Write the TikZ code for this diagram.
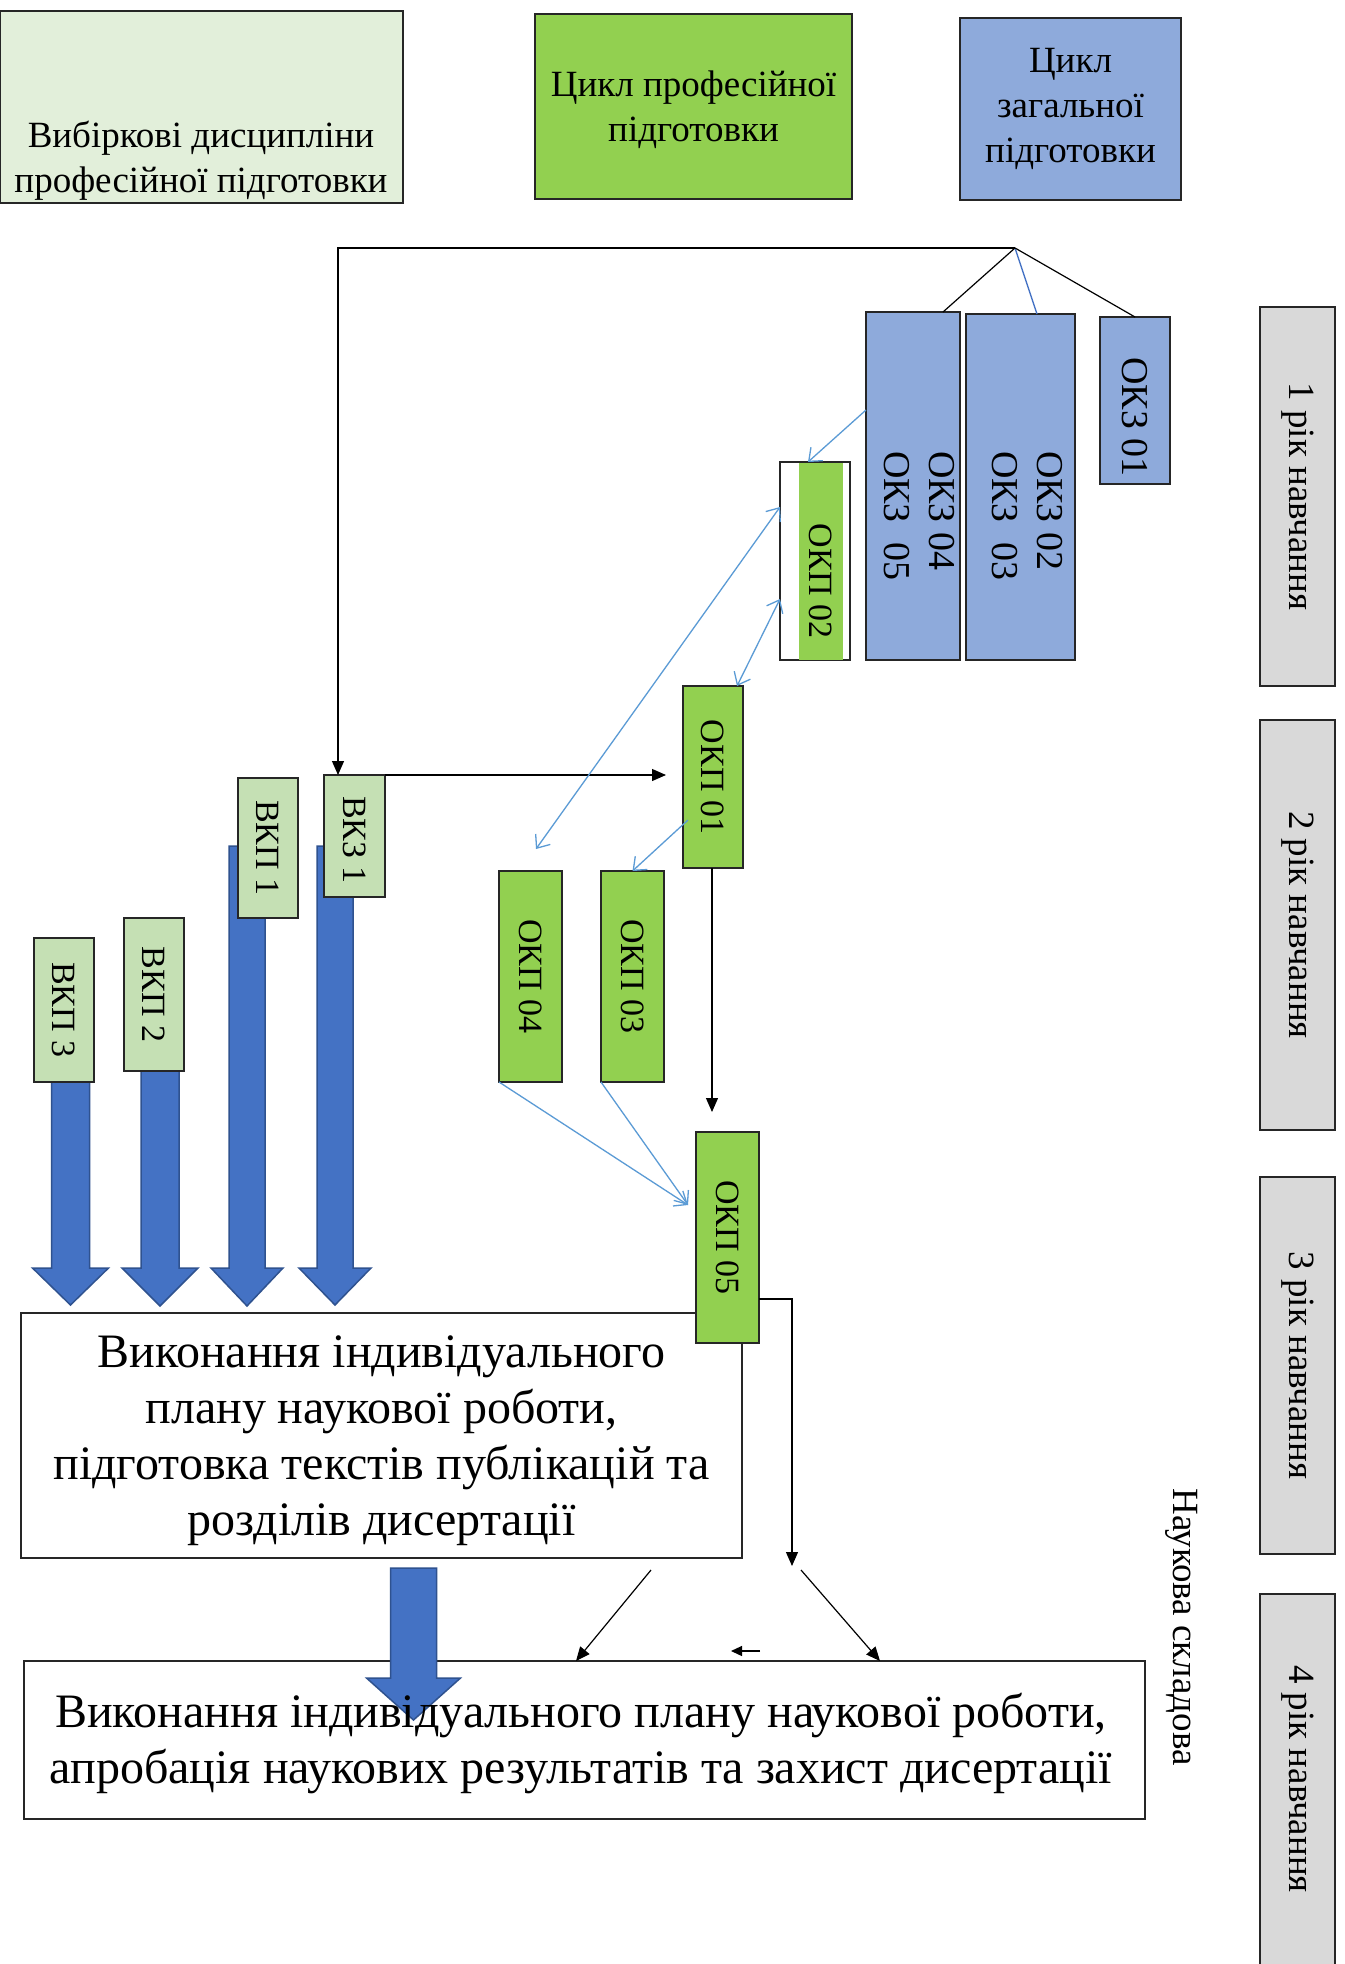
\documentclass[tikz,border=0pt]{standalone}
\usepackage{fontspec}
\setmainfont{Liberation Serif}
\usetikzlibrary{arrows.meta}
\definecolor{hdrlight}{HTML}{E2EFDA}
\definecolor{vkgreen}{HTML}{C5E0B4}
\definecolor{okpgreen}{HTML}{92D050}
\definecolor{okzblue}{HTML}{8EAADB}
\definecolor{yeargray}{HTML}{D9D9D9}
\definecolor{fatblue}{HTML}{4472C4}
\definecolor{fatborder}{HTML}{2F528F}
\definecolor{thinblue}{HTML}{5B9BD5}
\newcommand{\hdrsize}{\fontsize{37}{45}\selectfont}
\newcommand{\lblsize}{\fontsize{34}{45}\selectfont}
\newcommand{\okzsize}{\fontsize{38}{45}\selectfont}
\newcommand{\bigsize}{\fontsize{48}{56}\selectfont}
\newcommand{\blockarrow}[6]{%
  \path[fat] (#1-#2,#4) -- (#1+#2,#4) -- (#1+#2,#5) -- (#1+#3,#5) -- (#1,#6) -- (#1-#3,#5) -- (#1-#2,#5) -- cycle;}
\begin{document}
\begin{tikzpicture}[x=1pt,y=-1pt,
  rbox/.style={draw=black!85, line width=1.6pt, inner sep=0pt, outer sep=0pt},
  vlab/.style={rotate=-90, font=\lblsize, align=left, inner sep=0pt},
  hlab/.style={font=\hdrsize, align=center, inner sep=0pt},
  blab/.style={font=\bigsize, align=center, inner sep=0pt},
  blk/.style={draw=black, line width=1.2pt},
  blkarr/.style={blk, -{Triangle[length=14pt,width=12pt]}},
  thin/.style={draw=thinblue, line width=1.3pt},
  thinarr/.style={thin, -{Straight Barb[length=11pt,width=18pt,line width=1.3pt]}},
  thindbl/.style={thin, {Straight Barb[length=11pt,width=18pt,line width=1.3pt]}-{Straight Barb[length=11pt,width=18pt,line width=1.3pt]}},
  fat/.style={fill=fatblue, draw=fatborder, line width=1.5pt, line join=miter}
]
\useasboundingbox[fill=white] (0,0) rectangle (1344,1964);

% header boxes
\node[rbox, fill=hdrlight, minimum width=403pt, minimum height=192pt] (hdrA) at (201.5,107) {};
\node[hlab] (hdrAt) at (201,161) {Вибіркові дисципліни\\професійної підготовки};
\node[rbox, fill=okpgreen, minimum width=317pt, minimum height=185pt] (hdrB) at (693.5,106.5) {};
\node[hlab] (hdrBt) at (693.5,109.5) {Цикл професійної\\підготовки};
\node[rbox, fill=okzblue, minimum width=221pt, minimum height=182pt] (hdrC) at (1070.5,109) {};
\node[hlab] (hdrCt) at (1070.5,109) {Цикл\\загальної\\підготовки};

% year boxes
\node[rbox, fill=yeargray, minimum width=75pt, minimum height=379pt] (y1) at (1297.5,496.5) {};
\node[vlab, font=\hdrsize] (y1t) at (y1) {1 рік навчання};
\node[rbox, fill=yeargray, minimum width=75pt, minimum height=410pt] (y2) at (1297.5,925) {};
\node[vlab, font=\hdrsize] (y2t) at (y2) {2 рік навчання};
\node[rbox, fill=yeargray, minimum width=75pt, minimum height=377pt] (y3) at (1297.5,1365.5) {};
\node[vlab, font=\hdrsize] (y3t) at (y3) {3 рік навчання};
\node[rbox, fill=yeargray, minimum width=75pt, minimum height=381pt] (y4) at (1297.5,1784.5) {};
\node[vlab, font=\hdrsize] (y4t) at (1297.5,1779) {4 рік навчання};

\node[vlab, font=\hdrsize] (nauk) at (1182,1627) {Наукова складова};

% thick blue arrows of elective disciplines
\blockarrow{335}{18}{36}{846}{1268}{1305}
\blockarrow{247}{18}{36}{846}{1268}{1306}
\blockarrow{160}{19}{38}{1050}{1268}{1306}
\blockarrow{70.5}{19}{38}{1060}{1268}{1305}

% general cycle boxes
\node[rbox, fill=okzblue, minimum width=94pt, minimum height=348pt] (okz45) at (913,486) {};
\node[vlab, font=\okzsize, anchor=west] (okz45t) at (919,451) {ОКЗ 04\\ОКЗ\ \ 05};
\node[rbox, fill=okzblue, minimum width=109pt, minimum height=346pt] (okz23) at (1020.5,487) {};
\node[vlab, font=\okzsize, anchor=west] (okz23t) at (1027,451) {ОКЗ 02\\ОКЗ\ \ 03};
\node[rbox, fill=okzblue, minimum width=70pt, minimum height=167pt] (okz1) at (1135,400.5) {};
\node[vlab, font=\okzsize] (okz1t) at (1135,417) {ОКЗ 01};

% professional cycle boxes
\node[rbox, fill=white, minimum width=70pt, minimum height=198pt] (okp2) at (815,561) {};
\node[fill=okpgreen, inner sep=0pt, minimum width=44pt, minimum height=197pt] (okp2g) at (821,561) {};
\node[vlab] (okp2t) at (821,581) {ОКП 02};
\node[rbox, fill=okpgreen, minimum width=60pt, minimum height=182pt] (okp1) at (713,777) {};
\node[vlab] (okp1t) at (okp1) {ОКП 01};
\node[rbox, fill=okpgreen, minimum width=63pt, minimum height=211pt] (okp3) at (632.5,976.5) {};
\node[vlab] (okp3t) at (okp3) {ОКП 03};
\node[rbox, fill=okpgreen, minimum width=63pt, minimum height=211pt] (okp4) at (530.5,976.5) {};
\node[vlab] (okp4t) at (okp4) {ОКП 04};

% elective boxes
\node[rbox, fill=vkgreen, minimum width=61pt, minimum height=122pt] (vkz1) at (354.5,836) {};
\node[vlab] (vkz1t) at (354.5,840) {ВКЗ 1};
\node[rbox, fill=vkgreen, minimum width=60pt, minimum height=140pt] (vkp1) at (268,848) {};
\node[vlab] (vkp1t) at (vkp1) {ВКП 1};
\node[rbox, fill=vkgreen, minimum width=60pt, minimum height=153pt] (vkp2) at (154,994.5) {};
\node[vlab] (vkp2t) at (vkp2) {ВКП 2};
\node[rbox, fill=vkgreen, minimum width=60pt, minimum height=144pt] (vkp3) at (64,1010) {};
\node[vlab] (vkp3t) at (vkp3) {ВКП 3};

% big boxes
\node[rbox, fill=white, minimum width=721pt, minimum height=245pt] (big1) at (381.5,1435.5) {};
\node[blab] (big1t) at (381.5,1441) {Виконання індивідуального\\плану наукової роботи,\\підготовка текстів публікацій та\\розділів дисертації};
\node[rbox, fill=okpgreen, minimum width=63pt, minimum height=211pt] (okp5) at (727.5,1237.5) {};
\node[vlab] (okp5t) at (okp5) {ОКП 05};
\node[rbox, fill=white, minimum width=1121pt, minimum height=158pt] (big2) at (584.5,1740) {};
\blockarrow{413.5}{23}{47}{1568}{1678}{1720}
\node[blab] (big2t) at (581,1743) {Виконання індивідуального плану наукової роботи,\\апробація наукових результатів та захист дисертації};

% black connectors
\coordinate (apex) at (1015,248);
\draw[blk] (apex) -- ([xshift=30pt]okz45.north);
\draw[draw=fatblue, line width=1.3pt] (apex) -- ([xshift=16.5pt]okz23.north);
\draw[blk] (apex) -- (okz1.north);
\draw[blkarr] (apex) -| ([xshift=-16.5pt]vkz1.north);
\draw[blkarr, shorten >=17pt] (vkz1.north east) -- (vkz1.north east -| okp1.west);
\draw[blkarr, shorten >=20pt] ([xshift=-1pt]okp1.south) -- ([xshift=-1pt]okp1.south |- okp5.north);
\coordinate (c1) at (792,1566);
\draw[blkarr] ([yshift=-61.5pt]okp5.east) -| (c1);
\coordinate (d1) at (651,1570);
\coordinate (d2) at (801,1570);
\coordinate (e1) at (576,1661);
\coordinate (e2) at (880,1661);
\draw[blkarr] (d1) -- (e1);
\draw[blkarr] (d2) -- (e2);
\coordinate (f1) at (760,1651);
\coordinate (f2) at (731,1651);
\draw[blk, -{Triangle[length=11pt,width=10pt]}] (f1) -- (f2);

% thin blue connectors
\draw[thinarr] ([yshift=76pt]okz45.west) -- ([xshift=-7pt]okp2.north);
\draw[thindbl] ([xshift=5.5pt,yshift=22pt]okp4.north) -- ([yshift=54pt]okp2.west);
\draw[thindbl] ([xshift=24pt]okp1.north) -- ([yshift=-38pt]okp2.west);
\draw[thinarr] ([xshift=5pt,yshift=-43pt]okp1.west) -- (okp3.north);
\draw[thinarr] (okp4.south west) -- ([xshift=-8pt,yshift=32.5pt]okp5.west);
\draw[thinarr] (okp3.south west) -- ([xshift=-8pt,yshift=32.5pt]okp5.west);
\end{tikzpicture}
\end{document}
